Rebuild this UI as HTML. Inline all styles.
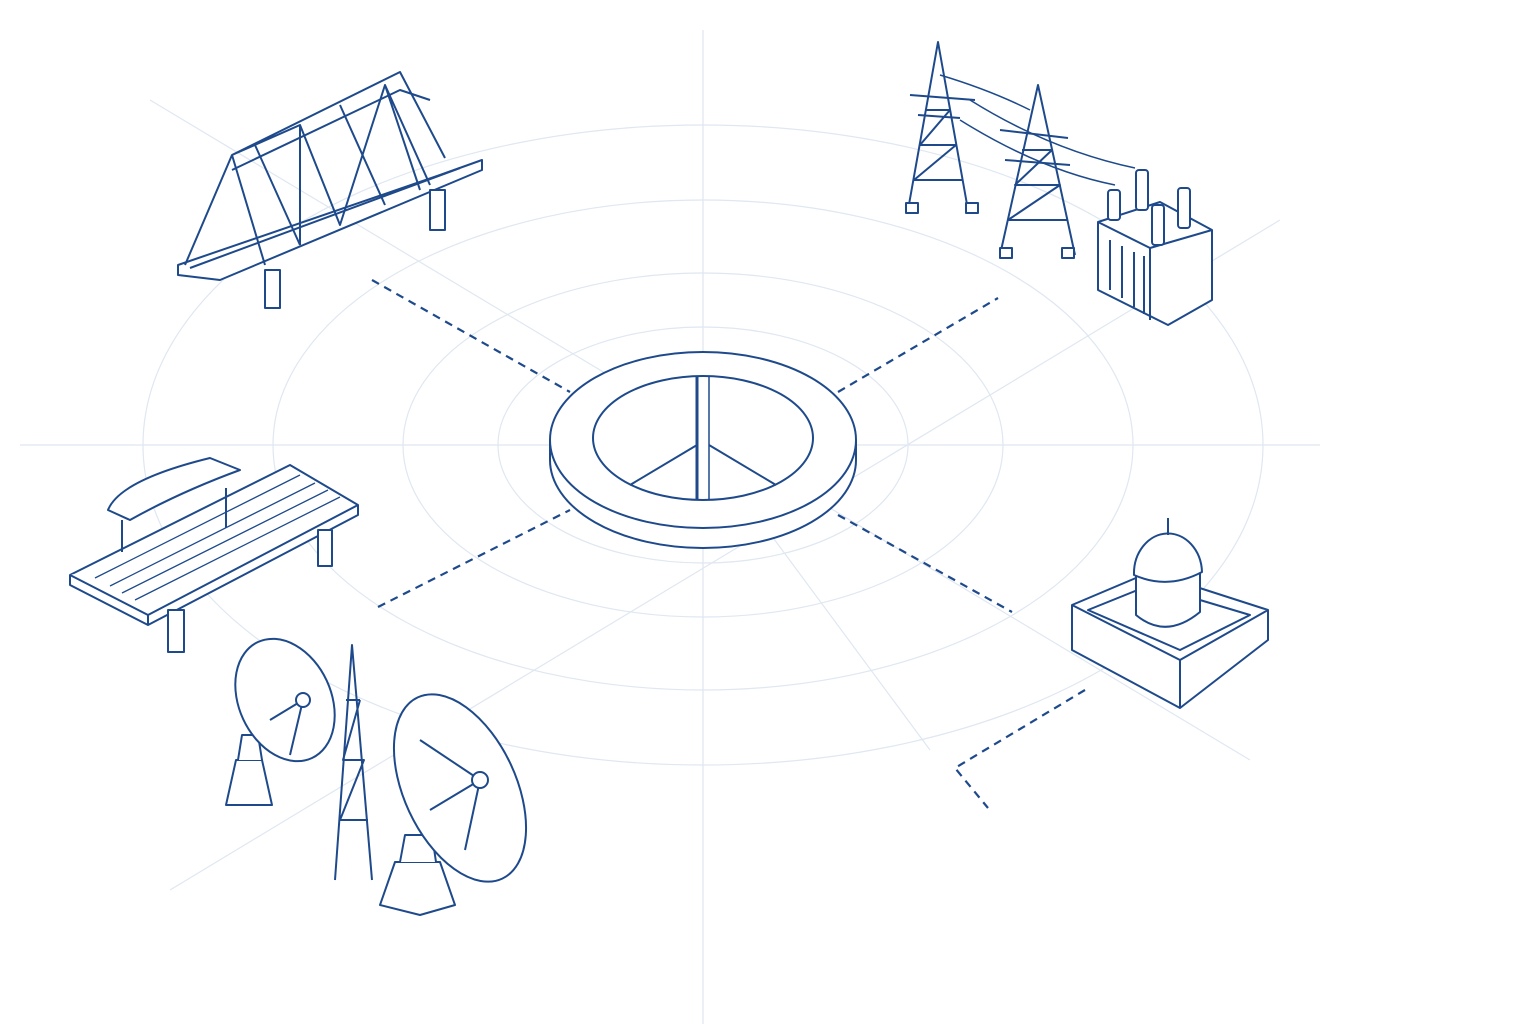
<!DOCTYPE html>
<html><head><meta charset="utf-8"><style>
html,body{margin:0;padding:0;background:#fff;width:1536px;height:1024px;overflow:hidden}
svg{display:block}
</style></head><body>
<svg width="1536" height="1024" viewBox="0 0 1536 1024" xmlns="http://www.w3.org/2000/svg">
<g fill="none" stroke="#dfe7f1" stroke-width="1.2">
<ellipse cx="703" cy="445" rx="560" ry="320"/>
<ellipse cx="703" cy="445" rx="430" ry="245"/>
<ellipse cx="703" cy="445" rx="300" ry="172"/>
<ellipse cx="703" cy="445" rx="205" ry="118"/>
<line x1="703" y1="30" x2="703" y2="1024"/>
<line x1="20" y1="445" x2="1320" y2="445"/>
<line x1="150" y1="100" x2="1250" y2="760"/>
<line x1="1280" y1="220" x2="170" y2="890"/>
<line x1="760" y1="520" x2="930" y2="750"/>
</g>
<g fill="none" stroke="#1e4a8c" stroke-width="2.2" stroke-dasharray="8 6">
<line x1="372" y1="280" x2="570" y2="392"/>
<line x1="838" y1="392" x2="998" y2="298"/>
<line x1="378" y1="607" x2="570" y2="510"/>
<line x1="838" y1="515" x2="1012" y2="612"/>
<polyline points="1085,690 955,768 988,808"/>
</g>
<g fill="#fff" stroke="#1e4a8c" stroke-width="2" stroke-linejoin="round">
<!-- central disc -->
<path d="M550,440 v20 a153,88 0 0 0 306,0 v-20"/>
<ellipse cx="703" cy="440" rx="153" ry="88"/>
<ellipse cx="703" cy="438" rx="110" ry="62"/>
<line x1="697" y1="377" x2="697" y2="500" stroke-width="3"/>
<line x1="709" y1="377" x2="709" y2="500" stroke-width="1.5"/>
<line x1="697" y1="445" x2="630" y2="485"/>
<line x1="709" y1="445" x2="776" y2="485"/>
<!-- bridge -->
<path d="M178,265 L440,175 L482,160 L482,170 L220,280 L178,275 Z"/>
<path d="M190,268 L460,168"/>
<rect x="265" y="270" width="15" height="38"/>
<rect x="430" y="190" width="15" height="40"/>
<path d="M185,265 L232,155 L400,72 L445,158 M232,155 L265,265 M255,145 L300,245 M300,125 L340,225 M340,105 L385,205 M385,85 L420,190 M232,155 L300,125 L300,245 M300,125 L340,225 L385,85 L430,185" fill="none"/>
<path d="M232,170 L400,90 L430,100" fill="none"/>
<!-- towers -->
<path d="M908,210 L938,42 L968,210 M914,180 L962,180 M920,145 L956,145 M926,110 L950,110 M914,180 L956,145 L920,145 L950,110 M910,95 L975,100 M918,115 L960,118" fill="none"/>
<path d="M1000,255 L1038,85 L1075,255 M1008,220 L1068,220 M1015,185 L1060,185 M1022,150 L1052,150 M1008,220 L1060,185 L1015,185 L1052,150 M1000,130 L1068,138 M1005,160 L1070,165" fill="none"/>
<path d="M940,75 Q990,90 1030,110 M970,100 Q1050,150 1135,168 M960,120 Q1040,170 1115,185" fill="none" stroke-width="1.5"/>
<rect x="906" y="203" width="12" height="10"/><rect x="966" y="203" width="12" height="10"/>
<rect x="1000" y="248" width="12" height="10"/><rect x="1062" y="248" width="12" height="10"/>
<!-- transformer -->
<path d="M1098,222 L1160,202 L1212,230 L1212,300 L1168,325 L1098,290 Z"/>
<path d="M1098,222 L1150,248 L1212,230 M1150,248 L1150,320"/>
<path d="M1110,240 v50 M1122,246 v52 M1134,252 v55 M1144,256 v58" fill="none"/>
<rect x="1108" y="190" width="12" height="30" rx="3"/><rect x="1136" y="170" width="12" height="40" rx="3"/>
<rect x="1178" y="188" width="12" height="40" rx="3"/><rect x="1152" y="205" width="12" height="40" rx="3"/>
<!-- dome building -->
<path d="M1072,605 L1150,572 L1268,610 L1268,640 L1180,708 L1072,650 Z"/>
<path d="M1072,605 L1180,660 L1268,610 M1180,660 L1180,708"/>
<path d="M1088,610 L1150,585 L1250,615 L1180,650 Z"/>
<path d="M1136,575 L1136,615 Q1166,640 1200,612 L1200,572"/>
<path d="M1134,575 A34,40 0 0 1 1202,572 Q1168,590 1134,575 Z"/>
<line x1="1168" y1="535" x2="1168" y2="518"/>
<!-- platform -->
<path d="M70,575 L290,465 L358,505 L358,515 L148,625 L70,585 Z"/>
<path d="M70,575 L148,615 L358,505 M148,615 L148,625"/>
<path d="M95,578 L300,475 M110,586 L315,483 M122,593 L328,490 M135,600 L340,497" fill="none" stroke-width="1.3"/>
<rect x="168" y="610" width="16" height="42"/><rect x="318" y="530" width="14" height="36"/>
<path d="M108,510 Q120,480 210,458 L240,470 Q180,492 130,520 Z"/>
<line x1="122" y1="520" x2="122" y2="552"/><line x1="226" y1="488" x2="226" y2="528"/>
<!-- dishes -->
<path d="M226,805 L236,760 L262,760 L272,805 Z"/>
<path d="M238,760 L242,735 L258,735 L262,760"/>
<ellipse cx="285" cy="700" rx="46" ry="64" transform="rotate(-25 285 700)"/>
<path d="M270,720 L303,700 M290,755 L303,700" fill="none"/>
<circle cx="303" cy="700" r="7"/>
<path d="M335,880 L352,645 L372,880 M340,820 L368,820 M343,760 L364,760 M346,700 L360,700 M340,820 L364,760 L343,760 L360,700" fill="none"/>
<path d="M380,905 L395,862 L440,862 L455,905 L420,915 Z"/>
<path d="M400,862 L405,835 L432,835 L436,862"/>
<ellipse cx="460" cy="788" rx="56" ry="100" transform="rotate(-25 460 788)"/>
<path d="M430,810 L480,780 M465,850 L480,780 M420,740 L480,780" fill="none"/>
<circle cx="480" cy="780" r="8"/>
</g>
</svg>
</body></html>
